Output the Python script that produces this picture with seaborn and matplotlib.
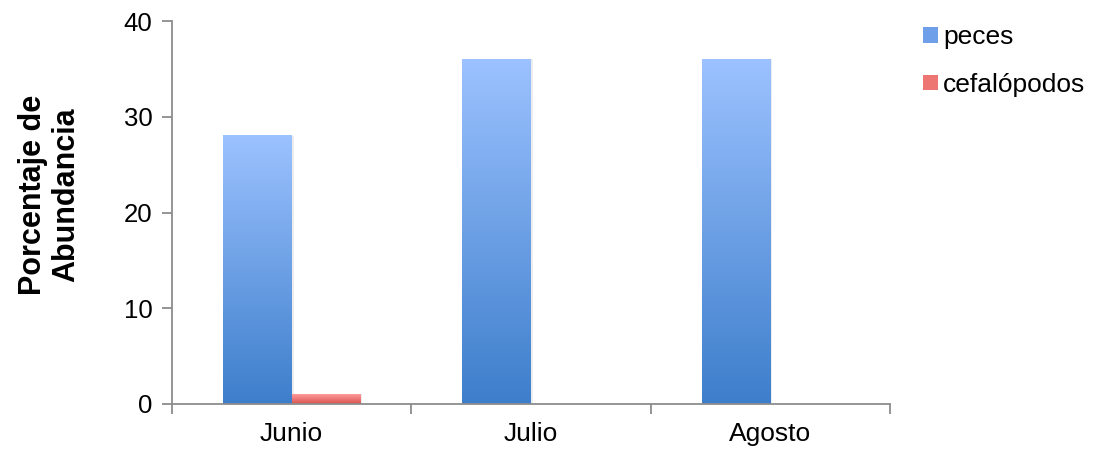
import numpy as np
import pandas as pd
import matplotlib
matplotlib.use("Agg")
import matplotlib.pyplot as plt
import seaborn as sns
from matplotlib.colors import LinearSegmentedColormap
from matplotlib.patches import Patch

months = ["Junio", "Julio", "Agosto"]
peces = [28, 36, 36]
cefalopodos = [1, 0, 0]
series_names = ["peces", "cefalópodos"]
y_ticks = [0, 10, 20, 30, 40]

df = pd.DataFrame({
    "mes": months * 2,
    "grupo": [series_names[0]] * 3 + [series_names[1]] * 3,
    "valor": peces + cefalopodos,
})

sns.set_style("white")
plt.rcParams["font.family"] = ["Liberation Sans", "DejaVu Sans"]
plt.rcParams["text.color"] = "black"
plt.rcParams["axes.labelcolor"] = "black"
plt.rcParams["xtick.color"] = "black"
plt.rcParams["ytick.color"] = "black"

fig = plt.figure(figsize=(10.95, 4.57), dpi=100)
ax = fig.add_axes([0.157, 0.116, 0.656, 0.838])

gradients = {
    "peces": ("#9cc2ff", "#3d7ecb"),
    "cefalópodos": ("#ff9b9b", "#d9534f"),
}
palette = {k: v[1] for k, v in gradients.items()}

sns.barplot(data=df, x="mes", y="valor", hue="grupo", palette=palette,
            width=0.575, ax=ax, legend=False, saturation=1)

# Replace flat bar fills with vertical gradients
grad = np.linspace(1, 0, 256).reshape(-1, 1)
for container, name in zip(ax.containers, series_names):
    top, bottom = gradients[name]
    cmap = LinearSegmentedColormap.from_list(name, [bottom, top])
    for bar in container:
        h = bar.get_height()
        if h <= 0:
            continue
        x0 = bar.get_x()
        w = bar.get_width()
        # faint drop shadow
        ax.add_patch(plt.Rectangle((x0 + 0.008, 0), w, h, color="#000000",
                                   alpha=0.07, lw=0, zorder=1.5))
        ax.imshow(grad, cmap=cmap, aspect="auto", extent=(x0, x0 + w, 0, h),
                  zorder=2, interpolation="bilinear")
        bar.set_visible(False)

ax.set_xlim(-0.5, 2.5)
ax.set_ylim(0, 40)

for s in ["top", "right"]:
    ax.spines[s].set_visible(False)
for s in ["left", "bottom"]:
    ax.spines[s].set_color("#8c8c8c")
    ax.spines[s].set_linewidth(1.3)

ax.set_yticks(y_ticks)
ax.tick_params(axis="y", direction="out", length=7, width=1.3, color="#8c8c8c",
               labelsize=18.5, pad=7, left=True, labelcolor="black")
ax.set_xticks(range(len(months)))
ax.set_xticklabels(months)
ax.tick_params(axis="x", length=0, labelsize=19, pad=13, labelcolor="black")
ax.set_xticks([-0.5, 0.5, 1.5, 2.5], minor=True)
ax.tick_params(axis="x", which="minor", direction="out", length=7, width=1.3,
               color="#8c8c8c", bottom=True)

ax.set_xlabel("")
ax.set_ylabel("Porcentaje de\nAbundancia", fontsize=22, fontweight="bold",
              linespacing=1.15, color="black")
ax.yaxis.set_label_coords(-0.126, 0.546)

handles = [Patch(facecolor=c, edgecolor="none", label=n)
           for n, c in zip(series_names, ["#6e9fe8", "#ee7672"])]
fig.legend(handles=handles, loc="upper left", bbox_to_anchor=(0.843, 0.945),
           frameon=False, fontsize=19, handlelength=0.55, handleheight=0.55,
           handletextpad=0.2, labelspacing=0.9, borderaxespad=0,
           borderpad=0)

fig.savefig("out.png", dpi=100, facecolor="white")
